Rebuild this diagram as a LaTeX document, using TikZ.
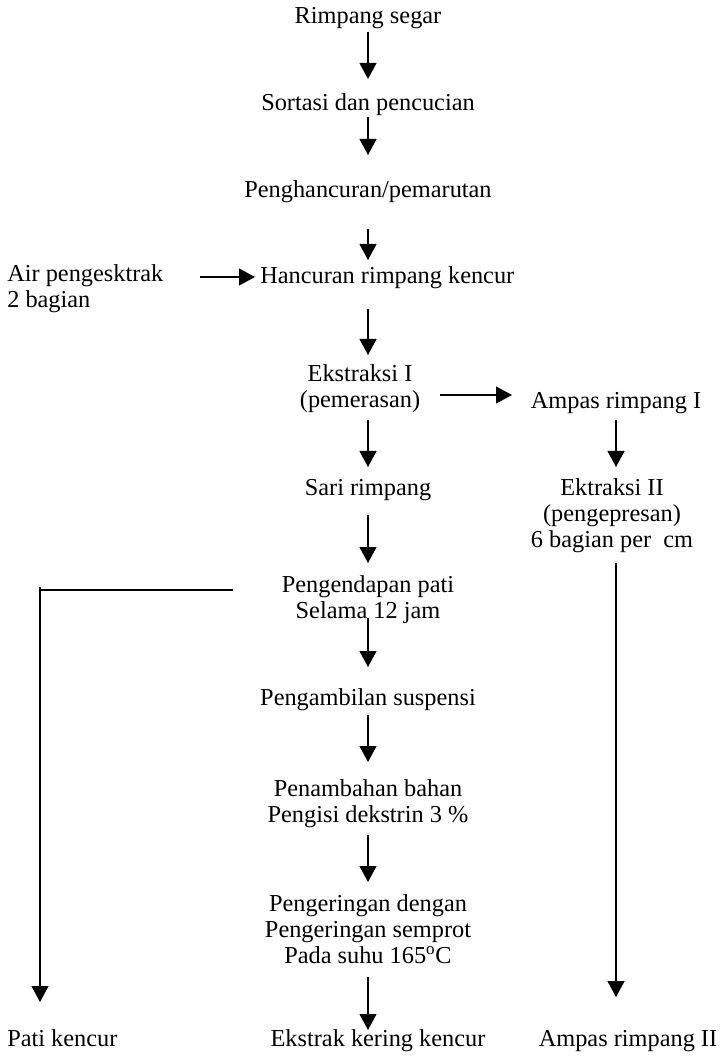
\documentclass[tikz,border=0pt]{standalone}
\usepackage{fontspec}
\setmainfont{Liberation Serif}
\usepackage{tikz}
\usetikzlibrary{arrows.meta,calc}

\begin{document}
\begin{tikzpicture}[x=0.025cm, y=-0.025cm,
    every node/.style={inner sep=0pt, align=center, font=\fontsize{17.3}{18.5}\selectfont},
    hasil/.style={text height=0.7em, text depth=0.22em},
    arr/.style={line width=1.3pt, -{Triangle[width=0.42cm,length=0.4cm]}},
    garis/.style={line width=1.3pt}]
  \useasboundingbox (0,0) rectangle (723,1056);

  % Alur utama
  \node (rimp) at (368,18.5) {Rimpang segar};
  \node (sort) at (368,105) {Sortasi dan pencucian};
  \node (parut) at (368,192) {Penghancuran/pemarutan};
  \node[anchor=west] (hancur) at (260,277.5) {Hancuran rimpang kencur};
  \node[anchor=west, align=left] (air) at (7,288.5) {Air pengesktrak\\2 bagian};
  \node (ekstr) at (360,389) {Ekstraksi I\\(pemerasan)};
  \node (sari) at (368,490) {Sari rimpang};
  \node (endap) at (368,600) {Pengendapan pati\\Selama 12 jam};
  \node (suspensi) at (368,700) {Pengambilan suspensi};
  \node (tambah) at (368,804) {Penambahan bahan\\Pengisi dekstrin 3 \%};
  \node (kering) at (368,929) {Pengeringan dengan\\Pengeringan semprot\\Pada suhu 165\textsuperscript{o}C};

  % Cabang ampas
  \node (ampas1) at (616,403) {Ampas rimpang I};
  \node (ektr2) at (612,516) {Ektraksi II\\(pengepresan)\\6 bagian per~ cm};

  % Hasil akhir
  \node[hasil, anchor=west] (pati) at (7,1043) {Pati kencur};
  \node[hasil] (ekskering) at (378,1043) {Ekstrak kering kencur};
  \node[hasil] (ampas2) at (628,1043) {Ampas rimpang II};

  \draw[arr] ($(rimp)+(0,13.5)$) -- ($(sort)+(0,-26)$);
  \draw[arr] ($(sort)+(0,12)$) -- ($(parut)+(0,-37)$);
  \draw[arr] ($(parut)+(0,37)$) -- ($(hancur.west)+(108,-17.5)$);
  \draw[arr] ($(air.west)+(193,-11.5)$) -- ($(hancur.west)+(-5,-0.5)$);
  \draw[arr] ($(hancur.west)+(108,31.5)$) -- ($(ekstr)+(8,-34)$);
  \draw[arr] ($(ekstr)+(8,31)$) -- ($(sari)+(0,-23)$);
  \draw[arr] ($(sari)+(0,25)$) -- ($(endap)+(0,-37)$);
  \draw[arr] ($(endap)+(0,18)$) -- ($(suspensi)+(0,-33)$);
  \draw[arr] ($(suspensi)+(0,15)$) -- ($(tambah)+(0,-42)$);
  \draw[arr] ($(tambah)+(0,31)$) -- ($(kering)+(0,-47)$);
  \draw[arr] ($(kering)+(0,48)$) -- ($(ekskering)+(-10,-13)$);

  % Cabang kanan
  \draw[arr] ($(ekstr)+(80,6)$) -- ($(ampas1)+(-104,-8)$);
  \draw[arr] ($(ampas1)+(0,17)$) -- ($(ektr2)+(4,-49)$);
  \draw[arr] ($(ektr2)+(4,47)$) -- ($(ampas2)+(-12,-46)$);

  % Cabang kiri
  \coordinate (sudut) at (40,590);
  \draw[garis] ($(endap)+(-135,-10)$) -- (sudut);
  \draw[arr] ($(sudut)+(0,-3)$) -- ($(pati.west)+(33,-41)$);
\end{tikzpicture}
\end{document}
